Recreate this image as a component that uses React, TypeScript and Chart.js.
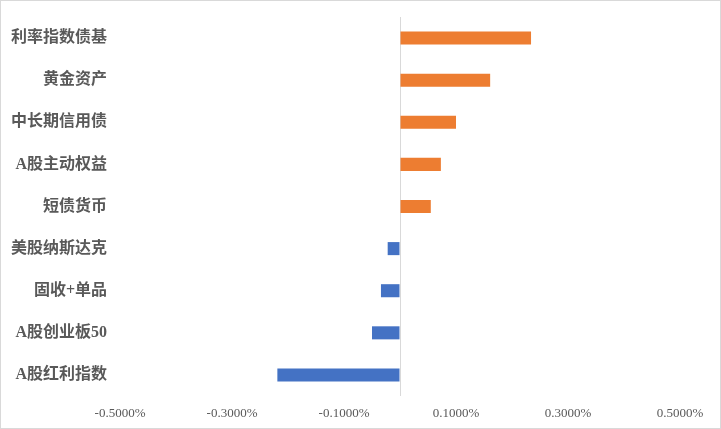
import React, { useEffect, useRef } from "react";
import { Chart, registerables } from "chart.js";

Chart.register(...registerables);

const categories = [
  "利率指数债基",
  "黄金资产",
  "中长期信用债",
  "A股主动权益",
  "短债货币",
  "美股纳斯达克",
  "固收+单品",
  "A股创业板50",
  "A股红利指数",
];
const values = [0.234, 0.161, 0.1, 0.073, 0.055, -0.022, -0.034, -0.05, -0.219];
const tickValues = [-0.5, -0.3, -0.1, 0.1, 0.3, 0.5];
const tickLabels = ["-0.5000%", "-0.3000%", "-0.1000%", "0.1000%", "0.3000%", "0.5000%"];

const POS_COLOR = "#ED7D31";
const NEG_COLOR = "#4472C4";

export default function App() {
  const ref = useRef<HTMLCanvasElement | null>(null);

  useEffect(() => {
    if (!ref.current) return;
    const chart = new Chart(ref.current, {
      type: "bar",
      data: {
        labels: categories,
        datasets: [
          {
            data: values,
            backgroundColor: values.map((v) => (v >= 0 ? POS_COLOR : NEG_COLOR)),
            borderWidth: 0,
            categoryPercentage: 1,
            barPercentage: 0.31,
          },
        ],
      },
      options: {
        indexAxis: "y",
        animation: false,
        responsive: false,
        maintainAspectRatio: false,
        layout: { padding: { top: 16, right: 40, left: 0, bottom: 0 } },
        plugins: { legend: { display: false }, tooltip: { enabled: false } },
        scales: {
          x: {
            type: "linear",
            min: -0.5,
            max: 0.5,
            afterBuildTicks: (scale: any) => {
              const all = [...tickValues, 0].sort((a, b) => a - b);
              scale.ticks = all.map((v) => ({ value: v }));
            },
            afterFit: (scale: any) => {
              scale.height = 32;
            },
            ticks: {
              autoSkip: false,
              maxRotation: 0,
              padding: 10,
              color: "#595959",
              font: { family: '"Liberation Serif", "Times New Roman", serif', size: 13 },
              callback: (value: any) => {
                const i = tickValues.findIndex((t) => Math.abs(t - Number(value)) < 1e-9);
                return i >= 0 ? tickLabels[i] : "";
              },
            },
            grid: {
              drawTicks: false,
              lineWidth: 1,
              color: (ctx: any) =>
                ctx.tick && Math.abs(ctx.tick.value) < 1e-9 ? "#D9D9D9" : "rgba(0,0,0,0)",
            },
            border: { display: false },
          },
          y: {
            afterFit: (scale: any) => {
              scale.width = 119;
              scale.paddingTop = 0;
              scale.paddingBottom = 0;
            },
            ticks: {
              padding: 13,
              color: "#595959",
              font: {
                family: '"Liberation Serif", "Noto Sans CJK SC", serif',
                size: 16,
                weight: "bold",
              },
            },
            grid: { display: false, drawTicks: false },
            border: { display: false },
          },
        },
      },
    });
    return () => chart.destroy();
  }, []);

  return (
    <div
      style={{
        position: "fixed",
        left: 0,
        top: 0,
        width: 721,
        height: 429,
        boxSizing: "border-box",
        border: "1px solid #D9D9D9",
        background: "#fff",
      }}
    >
      <canvas ref={ref} width={719} height={427} style={{ display: "block" }} />
    </div>
  );
}
